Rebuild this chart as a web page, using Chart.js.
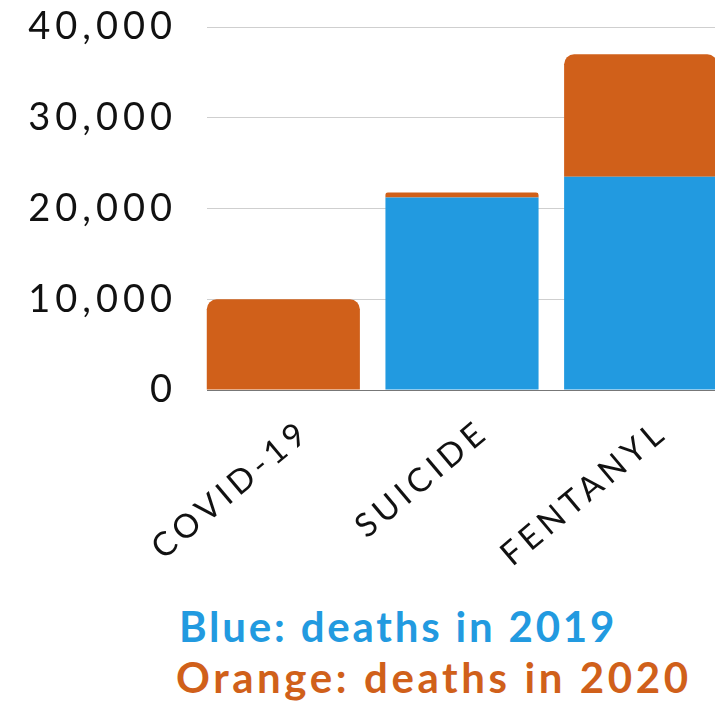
<!DOCTYPE html>
<html>
<head>
<meta charset="utf-8">
<script src="https://cdn.jsdelivr.net/npm/chart.js@4.4.0/dist/chart.umd.min.js"></script>
<style>
  html, body { margin: 0; padding: 0; background: #fff; overflow: hidden; }
  #wrap { position: relative; width: 715px; height: 704px; overflow: hidden; }
  #chart { display: block; }
  .note { position: absolute; font-family: "Lato", sans-serif; font-weight: 700; font-size: 42px; letter-spacing: 3px; line-height: 1; white-space: nowrap; }
  #blue { left: 179px; top: 605px; color: #229ae0; letter-spacing: 2.8px; }
  #orange { left: 176px; top: 656px; color: #d0601a; letter-spacing: 3.6px; }
</style>
</head>
<body>
<div id="wrap">
  <canvas id="chart" width="730" height="580" style="width:730px;height:580px"></canvas>
  <div class="note" id="blue">Blue: deaths in 2019</div>
  <div class="note" id="orange">Orange: deaths in 2020</div>
</div>
<script>
// Data
const categories = ["COVID-19", "SUICIDE", "FENTANYL"];
const deaths2019 = [0, 21200, 23500];
const deaths2020 = [10000, 550, 13500];
const yTicks = [0, 10000, 20000, 30000, 40000];

const blue = "#229ae0";
const orange = "#d0601a";

// the canvas state is reset on resize, so set the spacing again before layout and draw
const spacing = {
  id: "spacing",
  beforeUpdate: chart => { chart.ctx.letterSpacing = "5px"; },
  beforeDraw: chart => { chart.ctx.letterSpacing = "5px"; }
};

new Chart(document.getElementById("chart"), {
  type: "bar",
  data: {
    labels: categories,
    datasets: [
      {
        label: "2019",
        data: deaths2019,
        backgroundColor: blue,
        borderRadius: c => c.dataIndex === 1 ? 10 : 0
      },
      {
        label: "2020",
        data: deaths2020,
        backgroundColor: orange,
        borderRadius: 10
      }
    ]
  },
  plugins: [spacing],
  options: {
    responsive: false,
    animation: false,
    devicePixelRatio: 1,
    layout: { padding: { top: 27, left: 0, right: 0, bottom: 0 } },
    datasets: { bar: { categoryPercentage: 1, barPercentage: 0.857 } },
    plugins: { legend: { display: false }, tooltip: { enabled: false } },
    scales: {
      x: {
        stacked: true,
        grid: { display: false },
        border: { display: false },
        ticks: {
          color: "#111",
          font: { family: "Lato", size: 33 },
          minRotation: 40,
          maxRotation: 40,
          padding: 14,
          labelOffset: 22
        },
        afterFit: s => { s.height = 190; }
      },
      y: {
        stacked: true,
        min: 0,
        max: 40000,
        afterBuildTicks: s => { s.ticks = yTicks.map(v => ({ value: v })); },
        // white inner ticks hide the first bit of each grid line, so lines start at the first bar
        grid: {
          color: c => c.tick && c.tick.value === 0 ? "#777" : "#cfcfcf",
          lineWidth: 1,
          drawTicks: true,
          tickLength: -13,
          tickColor: "#fff",
          tickWidth: 3
        },
        border: { display: false },
        ticks: {
          color: "#111",
          font: { family: "Lato", size: 38 },
          padding: 30,
          callback: v => v.toLocaleString("en-US")
        },
        afterFit: s => {
          s.width = 194;
          s.paddingTop = 0;
          s.paddingBottom = 0;
        }
      }
    }
  }
});
</script>
</body>
</html>
